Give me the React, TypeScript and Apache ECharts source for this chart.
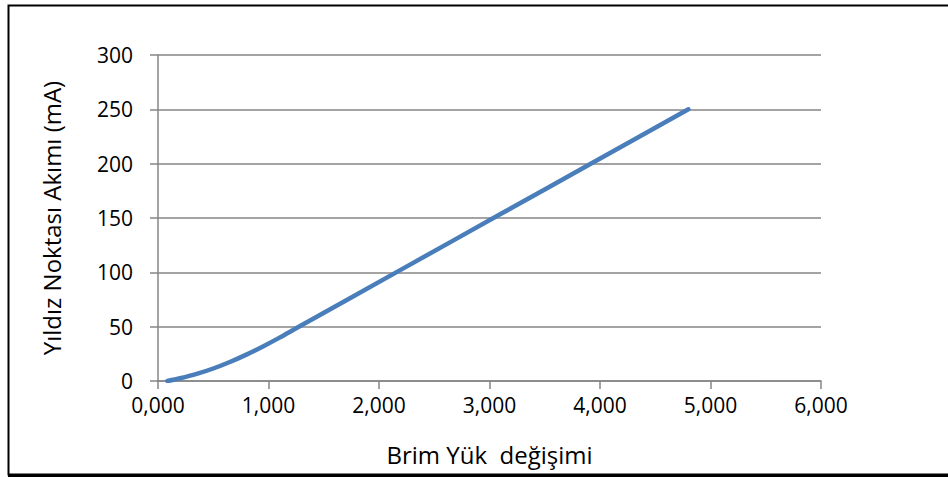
import React, { useEffect, useRef } from "react";
import * as echarts from "echarts";

// Brim yük değişimi (x) vs yıldız noktası akımı in mA (y)
const loadChange: number[] = [0.085, 0.2, 0.35, 0.5, 0.65, 0.8, 0.95, 1.1, 1.25, 2.2, 3.1, 3.9, 4.8];
const starPointCurrent: number[] = [0, 2.5, 6.5, 11.5, 17.5, 24.3, 31.8, 39.9, 48.5, 102.5, 153.6, 199, 250];

const xTitle = "Brim Yük  değişimi";
const yTitle = "Yıldız Noktası Akımı (mA)";

const FONT = "Open Sans";
const GRID_COLOR = "#868686";

export default function App() {
  const ref = useRef<HTMLDivElement>(null);

  useEffect(() => {
    if (!ref.current) return;
    const chart = echarts.init(ref.current, undefined, { renderer: "svg" });
    const data = loadChange.map((x, i) => [x, starPointCurrent[i]]);
    chart.setOption({
      animation: false,
      backgroundColor: "#ffffff",
      grid: { left: 158, right: 127, top: 55, bottom: 96, containLabel: false },
      xAxis: {
        type: "value",
        min: 0,
        max: 6,
        interval: 1,
        name: xTitle,
        nameLocation: "middle",
        nameGap: 61,
        nameTextStyle: { fontFamily: FONT, fontSize: 24, color: "#000" },
        axisLine: { show: true, lineStyle: { color: GRID_COLOR, width: 1.5 } },
        axisTick: { show: true, length: 8, lineStyle: { color: GRID_COLOR, width: 1.5 } },
        axisLabel: {
          fontFamily: FONT,
          fontSize: 21,
          color: "#000",
          margin: 13,
          formatter: (v: number) => v.toFixed(3).replace(".", ","),
        },
        splitLine: { show: false },
      },
      yAxis: {
        type: "value",
        min: 0,
        max: 300,
        interval: 50,
        name: yTitle,
        nameLocation: "middle",
        nameGap: 95,
        nameRotate: 90,
        nameTextStyle: { fontFamily: FONT, fontSize: 24, color: "#000" },
        axisLine: { show: true, lineStyle: { color: GRID_COLOR, width: 1.5 } },
        axisTick: { show: true, length: 8, lineStyle: { color: GRID_COLOR, width: 1.5 } },
        axisLabel: { fontFamily: FONT, fontSize: 21, color: "#000", margin: 25 },
        splitLine: { show: true, lineStyle: { color: GRID_COLOR, width: 1.5 } },
      },
      series: [
        {
          type: "line",
          data,
          smooth: 0.3,
          showSymbol: false,
          lineStyle: { color: "#4a7ebb", width: 4.5, cap: "round", join: "round" },
        },
      ],
      graphic: [
        {
          type: "rect",
          shape: { x: 8.5, y: 5.5, width: 1000, height: 469 },
          style: { fill: "none", stroke: "#000", lineWidth: 2 },
          silent: true,
        },
        {
          type: "line",
          shape: { x1: 8, y1: 475.5, x2: 948, y2: 475.5 },
          style: { stroke: "#000", lineWidth: 3 },
          silent: true,
        },
      ],
    });
    return () => chart.dispose();
  }, []);

  return (
    <div
      ref={ref}
      style={{ position: "absolute", left: 0, top: 0, width: 948, height: 477 }}
    />
  );
}
